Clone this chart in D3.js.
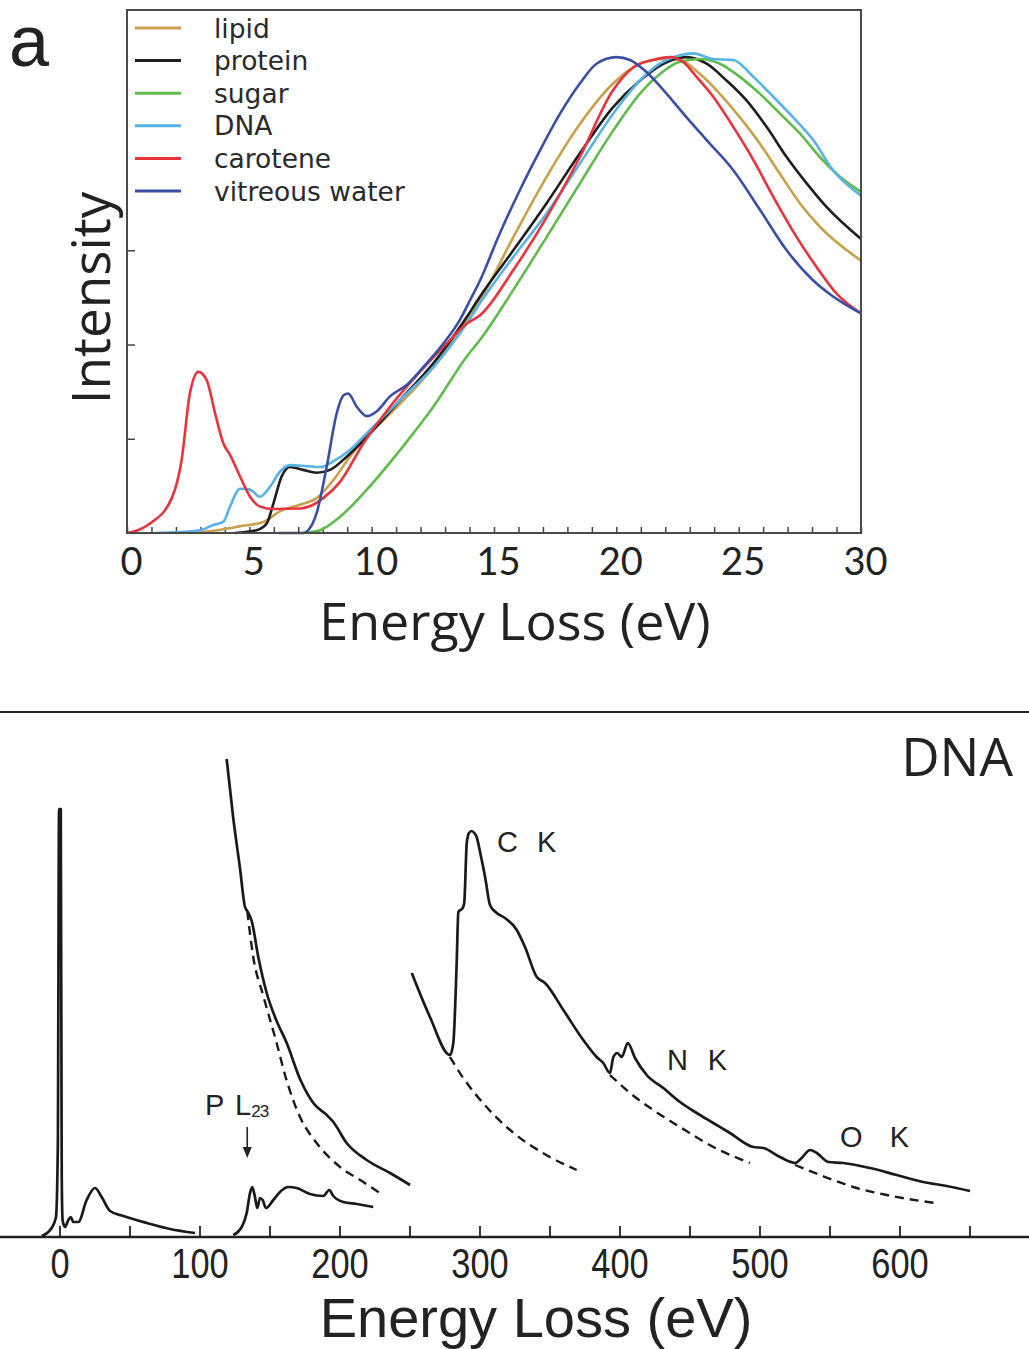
<!DOCTYPE html>
<html>
<head>
<meta charset="utf-8">
<script src="https://cdn.jsdelivr.net/npm/d3@7"></script>
<style>
  body { margin: 0; background: #fff; }
  svg { display: block; }
</style>
</head>
<body>
<div id="chart"></div>
<script>
// panel a : low-loss spectra, [energy loss (eV), intensity (a.u.)]
var lipid = [[2.0,0],[3.7,0.03],[4.6,0.07],[5.6,0.12],[6.25,0.23],[7.07,0.3],[7.75,0.37],[8.43,0.56],[9.11,0.81],[9.8,1.02],[11.16,1.37],[12.52,1.76],[13.88,2.26],[14.43,2.47],[15.79,3.14],[17.15,3.78],[18.51,4.34],[19.87,4.77],[20.96,4.98],[21.92,5.03],[22.6,5.02],[23.42,4.87],[24.23,4.66],[25.05,4.41],[25.87,4.13],[26.69,3.81],[27.5,3.5],[28.32,3.25],[30,2.89]];
var protein = [[4.4,0],[5.3,0.03],[5.71,0.1],[5.98,0.31],[6.32,0.6],[6.66,0.7],[7.2,0.67],[7.75,0.64],[8.3,0.67],[8.98,0.81],[9.8,1.02],[11.16,1.41],[12.52,1.8],[13.88,2.29],[14.43,2.51],[15.79,3.0],[17.15,3.5],[18.51,4.03],[19.87,4.52],[20.96,4.8],[21.92,4.98],[22.87,5.05],[23.69,4.98],[24.51,4.8],[25.32,4.59],[26.14,4.31],[26.96,3.99],[27.78,3.71],[28.59,3.46],[30,3.12]];
var sugar = [[7.2,0],[7.89,0.03],[8.7,0.17],[9.8,0.46],[11.16,0.88],[12.52,1.34],[13.88,1.87],[14.43,2.05],[15.79,2.58],[17.15,3.14],[18.51,3.71],[19.87,4.27],[20.96,4.66],[21.78,4.87],[22.6,5.0],[23.42,5.03],[24.23,4.98],[25.05,4.84],[25.87,4.66],[26.69,4.45],[27.5,4.24],[28.32,3.99],[29.14,3.78],[30,3.62]];
var dna = [[1.14,0],[2.98,0.03],[3.53,0.085],[3.94,0.12],[4.21,0.28],[4.62,0.47],[5.03,0.46],[5.44,0.385],[5.84,0.49],[6.25,0.65],[6.66,0.72],[7.34,0.71],[7.89,0.7],[8.43,0.76],[9.11,0.88],[9.8,1.06],[11.16,1.41],[12.52,1.76],[13.88,2.22],[14.43,2.44],[15.79,2.93],[17.15,3.39],[18.51,3.92],[19.87,4.45],[20.96,4.8],[21.78,4.98],[22.6,5.07],[23.14,5.09],[23.96,5.03],[24.78,5.02],[25.6,4.84],[26.41,4.63],[27.23,4.41],[28.05,4.17],[28.86,3.85],[30,3.58]];
var carotene = [[0,0],[0.94,0.1],[1.83,0.37],[2.23,0.77],[2.57,1.48],[2.92,1.71],[3.26,1.62],[3.6,1.27],[3.94,0.95],[4.21,0.83],[4.62,0.6],[5.03,0.385],[5.44,0.28],[5.98,0.255],[7.07,0.26],[7.61,0.3],[8.02,0.37],[8.7,0.54],[9.66,0.95],[10.75,1.34],[11.97,1.71],[13.06,2.01],[13.88,2.22],[14.43,2.31],[15.79,2.79],[17.15,3.35],[18.51,3.99],[19.87,4.7],[20.69,4.94],[21.5,5.02],[22.19,5.05],[22.73,5.0],[23.28,4.84],[23.96,4.63],[24.78,4.31],[25.6,3.96],[26.41,3.57],[27.37,3.14],[28.19,2.82],[29.0,2.54],[30,2.33]];
var vitreous = [[6.2,0],[7.2,0],[7.41,0.03],[7.75,0.21],[8.16,0.7],[8.57,1.27],[8.84,1.46],[9.04,1.48],[9.39,1.34],[9.8,1.24],[10.2,1.29],[10.75,1.45],[11.43,1.57],[12.11,1.76],[12.93,2.01],[13.6,2.26],[14.02,2.47],[14.43,2.68],[15.24,3.18],[16.06,3.64],[16.88,4.06],[17.7,4.45],[18.51,4.77],[19.19,4.98],[20.01,5.05],[20.56,5.02],[21.24,4.89],[22.06,4.66],[22.87,4.41],[23.69,4.17],[24.78,3.85],[25.87,3.43],[26.96,3.0],[28.05,2.68],[28.86,2.51],[30,2.33]];

var seriesNames = ['lipid', 'protein', 'sugar', 'DNA', 'carotene', 'vitreous water'];
var seriesData = [lipid, protein, sugar, dna, carotene, vitreous];
var seriesColors = ['#c9a14a', '#1e1e1e', '#5fbc4c', '#58b2e6', '#e8333d', '#3a4ea6'];
var energyTicksA = d3.range(0, 31, 1);
var intensityTicksA = [1, 2, 3];

// panel b : DNA core-loss spectrum, [energy loss (eV), counts (a.u.)]
var lowLoss = [[-12.7,1],[-5.6,9],[-2.5,20],[-1.2,90],[-0.3,428],[0.9,428],[1.6,60],[2.2,17],[3.9,10],[6.3,17],[8.0,20],[9.9,15],[13.4,15],[19.4,37],[25.4,49],[30.1,40],[36.1,26],[45.6,21],[62.3,14],[78.9,8],[96.8,4]];
var phosEdge = [[124.1,2],[130.1,10],[133.7,24],[136.1,44],[137.7,50],[139.6,40],[141.3,29],[143.2,39],[145.1,37],[147.5,29],[152.7,37],[157.5,45],[163.4,50],[169.4,49],[178.9,43],[188.4,41],[192.7,47],[195.6,41],[202.7,35],[212.3,33],[224.1,30]];
var phosMagnified = [[119.4,478],[124.1,419],[128.9,369],[132.5,330],[134.1,326],[137.3,316],[142,280],[148,244],[155.1,216],[162.3,194],[171.8,158],[181.3,134],[190.9,122],[195.6,115],[205.1,94],[219.4,77],[236.1,64],[250.4,52]];
var phosBackground = [[134.1,326],[138.4,280],[145.6,241],[155.1,194],[161.5,160],[171.8,120],[183.7,94],[200.4,70],[217,55],[228.9,44]];
var coreLoss = [[251.6,264],[264.6,220],[278.9,182],[281.3,194],[283.7,274],[284.9,325],[288,329],[289.1,334],[290.9,394],[292.5,404],[294.4,406],[296.3,404],[298,400],[300.4,385],[304,360],[307.5,332],[312.3,324],[318.2,319],[326.6,307],[332.5,290],[340.9,260],[346.8,254],[359.9,227],[374.1,197],[383.7,180],[388.4,174],[393.2,164],[395.6,180],[398.4,184],[401.6,180],[405.9,194],[411.1,179],[419.4,162],[431.3,149],[443.2,135],[455.1,124],[467,114],[478.9,104],[495.6,90],[502.7,89],[514.6,80],[525.4,74],[530.1,79],[536.1,87],[540.9,84],[549.2,75],[559.9,74],[579,69],[598,62],[617,55],[633.7,51],[650.4,46]];
var carbonBackground = [[278.9,180],[288.4,159],[300.6,137],[323.5,105],[346.5,83],[369.4,67]];
var nitrogenBackground = [[393.2,162],[407.5,144],[424.1,127],[443.2,110],[467,90],[493.2,74]];
var oxygenBackground = [[525.4,72],[543.2,62],[567,50],[590.9,42],[625.4,34]];
var edgeLabels = [['C',312.5,385],['K',341,385],['N',434,167],['K',463,167],['O',557.5,90],['K',593,90]];
var energyTicksB = d3.range(0, 651, 50);
var arrowEnergy = 134.1;

var svg = d3.select('#chart').append('svg')
    .attr('width', 1029)
    .attr('height', 1349);

// ---------- panel a ----------
var xA = d3.scaleLinear().domain([0, 30]).range([127, 861]);
var yA = d3.scaleLinear().domain([0, 5.55]).range([533, 10]);

var lineA = d3.line()
    .x(function(d) { return xA(d[0]); })
    .y(function(d) { return yA(d[1]); })
    .curve(d3.curveMonotoneX);

var gA = svg.append('g');

gA.append('g')
    .attr('transform', 'translate(0,' + yA(0) + ')')
    .call(d3.axisBottom(xA).tickValues(energyTicksA).tickSize(-6).tickPadding(15)
        .tickFormat(function(d) { return d % 5 === 0 ? d : ''; }))
    .call(function(g) { g.select('.domain').remove(); })
    .call(function(g) {
        g.selectAll('line').attr('stroke', '#444').attr('stroke-width', 1.5);
        g.selectAll('text').attr('font-family', 'Lato').attr('font-size', 38)
            .attr('fill', '#222').attr('dx', 4);
    });

gA.append('g')
    .attr('transform', 'translate(' + xA(0) + ',0)')
    .call(d3.axisLeft(yA).tickValues(intensityTicksA).tickSize(-8).tickFormat(''))
    .call(function(g) { g.select('.domain').remove(); })
    .call(function(g) { g.selectAll('line').attr('stroke', '#444').attr('stroke-width', 1.5); });

gA.selectAll('path.series')
    .data(seriesData)
    .enter()
    .append('path')
    .attr('class', 'series')
    .attr('fill', 'none')
    .attr('stroke', function(d, i) { return seriesColors[i]; })
    .attr('stroke-width', 2.6)
    .attr('stroke-linejoin', 'round')
    .attr('d', lineA);

gA.append('rect')
    .attr('x', xA(0))
    .attr('y', yA(5.55))
    .attr('width', xA(30) - xA(0))
    .attr('height', yA(0) - yA(5.55))
    .attr('fill', 'none')
    .attr('stroke', '#4a4a4a')
    .attr('stroke-width', 2);

var legend = gA.selectAll('g.legend')
    .data(seriesNames)
    .enter()
    .append('g')
    .attr('class', 'legend')
    .attr('transform', function(d, i) { return 'translate(135,' + (28 + i * 32.6) + ')'; });

legend.append('line')
    .attr('x1', 0).attr('x2', 46)
    .attr('stroke', function(d, i) { return seriesColors[i]; })
    .attr('stroke-width', 3);

legend.append('text')
    .attr('x', 79)
    .attr('dy', '0.36em')
    .attr('font-family', 'DejaVu Sans')
    .attr('font-size', 26.5)
    .attr('fill', '#2a2a2a')
    .text(function(d) { return d; });

gA.append('text')
    .attr('transform', 'translate(110,298) rotate(-90)')
    .attr('text-anchor', 'middle')
    .attr('font-family', 'Open Sans')
    .attr('font-size', 53)
    .attr('fill', '#222')
    .text('Intensity');

gA.append('text')
    .attr('x', 515)
    .attr('y', 640)
    .attr('text-anchor', 'middle')
    .attr('font-family', 'Open Sans')
    .attr('font-size', 52)
    .attr('fill', '#222')
    .text('Energy Loss (eV)');

svg.append('text')
    .attr('x', 9)
    .attr('y', 66)
    .attr('font-family', 'Liberation Sans')
    .attr('font-size', 72)
    .attr('fill', '#222')
    .text('a');

// ---------- panel b ----------
var xB = d3.scaleLinear().domain([0, 650]).range([59.5, 969.5]);
var yB = d3.scaleLinear().domain([0, 525]).range([1237, 712]);

var lineB = d3.line()
    .x(function(d) { return xB(d[0]); })
    .y(function(d) { return yB(d[1]); })
    .curve(d3.curveMonotoneX);

var gB = svg.append('g');

gB.append('line')
    .attr('x1', 0).attr('x2', 1029)
    .attr('y1', yB(525)).attr('y2', yB(525))
    .attr('stroke', '#222').attr('stroke-width', 2);

gB.append('g')
    .attr('transform', 'translate(0,' + yB(0) + ')')
    .call(d3.axisBottom(xB).tickValues(energyTicksB).tickSize(-11).tickPadding(11)
        .tickFormat(function(d) { return d % 100 === 0 ? d : ''; }))
    .call(function(g) { g.select('.domain').remove(); })
    .call(function(g) {
        g.selectAll('line').attr('stroke', '#222').attr('stroke-width', 1.8);
        g.selectAll('text').attr('font-family', 'Liberation Sans').attr('font-size', 42)
            .attr('fill', '#222').attr('transform', 'scale(0.82,1)');
    });

gB.append('line')
    .attr('x1', 0).attr('x2', 1029)
    .attr('y1', yB(0)).attr('y2', yB(0))
    .attr('stroke', '#222').attr('stroke-width', 2.5);

gB.selectAll('path.solid')
    .data([lowLoss, phosEdge, phosMagnified, coreLoss])
    .enter()
    .append('path')
    .attr('class', 'solid')
    .attr('fill', 'none')
    .attr('stroke', '#1a1a1a')
    .attr('stroke-width', 2.7)
    .attr('stroke-linejoin', 'round')
    .attr('d', lineB);

gB.selectAll('path.dashed')
    .data([phosBackground, carbonBackground, nitrogenBackground, oxygenBackground])
    .enter()
    .append('path')
    .attr('class', 'dashed')
    .attr('fill', 'none')
    .attr('stroke', '#1a1a1a')
    .attr('stroke-width', 2.4)
    .attr('stroke-dasharray', '9,6')
    .attr('d', lineB);

gB.selectAll('text.edge')
    .data(edgeLabels)
    .enter()
    .append('text')
    .attr('class', 'edge')
    .attr('x', function(d) { return xB(d[1]); })
    .attr('y', function(d) { return yB(d[2]); })
    .attr('font-family', 'Liberation Sans')
    .attr('font-size', 29)
    .attr('fill', '#222')
    .text(function(d) { return d[0]; });

var pLabel = gB.append('text')
    .attr('x', xB(104))
    .attr('y', yB(122))
    .attr('font-family', 'Liberation Sans')
    .attr('font-size', 29)
    .attr('fill', '#222');
pLabel.append('tspan').text('P');
pLabel.append('tspan').attr('x', xB(125.4)).text('L');
pLabel.append('tspan').attr('font-size', 17).attr('dy', 2).attr('letter-spacing', -1).text('23');

gB.append('line')
    .attr('x1', xB(arrowEnergy)).attr('x2', xB(arrowEnergy))
    .attr('y1', yB(110)).attr('y2', yB(88))
    .attr('stroke', '#222').attr('stroke-width', 1.6);

gB.append('path')
    .attr('d', 'M' + (xB(arrowEnergy) - 4.5) + ',' + yB(90) + 'L' + (xB(arrowEnergy) + 4.5) + ',' + yB(90) +
        'L' + xB(arrowEnergy) + ',' + yB(79) + 'Z')
    .attr('fill', '#222');

gB.append('text')
    .attr('x', 1013)
    .attr('y', 776)
    .attr('text-anchor', 'end')
    .attr('font-family', 'Open Sans')
    .attr('font-size', 53)
    .attr('fill', '#222')
    .text('DNA');

gB.append('text')
    .attr('x', 536)
    .attr('y', 1337)
    .attr('text-anchor', 'middle')
    .attr('font-family', 'Liberation Sans')
    .attr('font-size', 56)
    .attr('fill', '#222')
    .text('Energy Loss (eV)');
</script>
</body>
</html>
